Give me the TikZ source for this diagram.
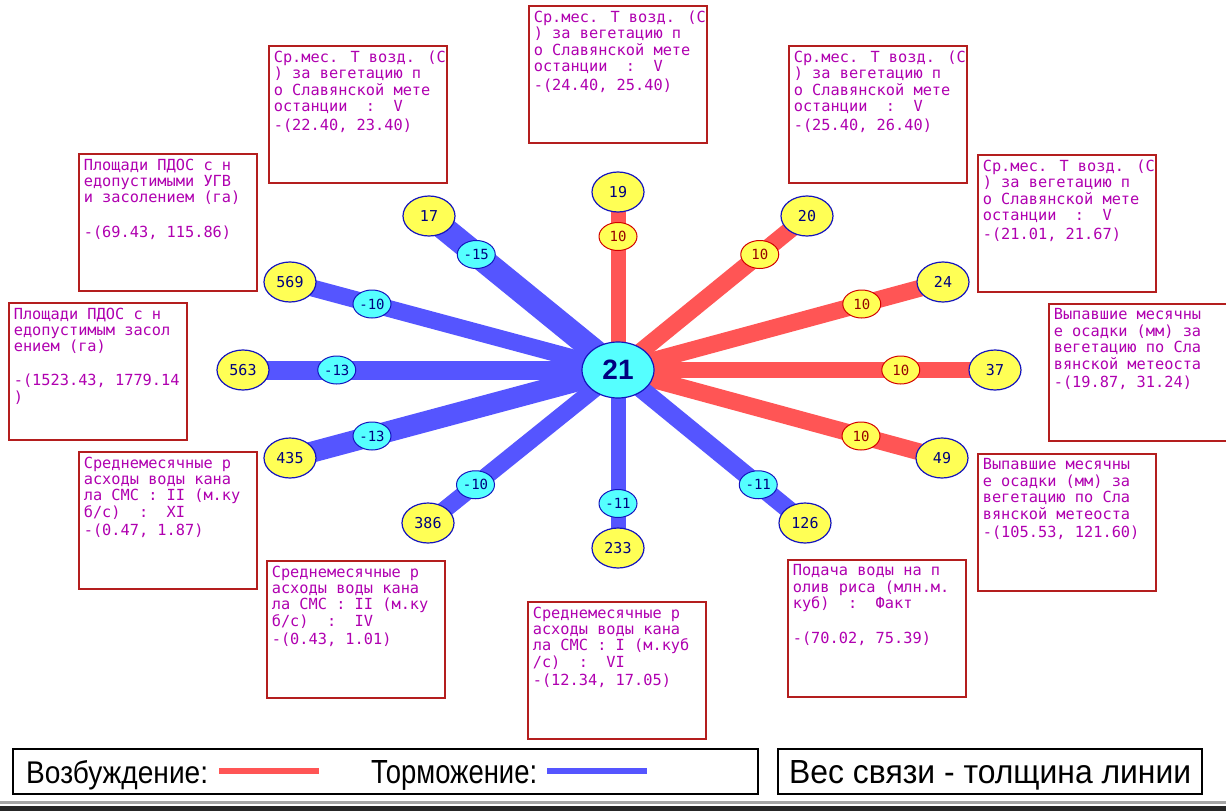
\documentclass[tikz,border=0pt]{standalone}
\usepackage{fontspec}
\setmainfont{Liberation Sans}
\newfontfamily\boxfont{DejaVu Sans Mono}
\newfontfamily\numfont{DejaVu Sans Mono}
\usetikzlibrary{shapes.geometric}
\pgfdeclarelayer{back}
\pgfdeclarelayer{bg}
\pgfsetlayers{back,bg,main}
\definecolor{linered}{RGB}{255,85,85}
\definecolor{lineblue}{RGB}{85,85,255}
\definecolor{nodeyellow}{RGB}{255,255,85}
\definecolor{nodecyan}{RGB}{85,255,255}
\definecolor{nodeborder}{RGB}{20,20,190}
\definecolor{nodetext}{RGB}{0,0,128}
\definecolor{posborder}{RGB}{210,0,0}
\definecolor{postext}{RGB}{150,0,0}
\definecolor{boxred}{RGB}{180,30,30}
\definecolor{boxmag}{RGB}{176,0,176}
\newcommand{\boxtext}[1]{\makebox[168pt][l]{\parbox[t][127pt][t]{220pt}{\raggedright #1}}}
\tikzset{
  outer/.style={ellipse, draw=nodeborder, line width=1.2pt, fill=nodeyellow,
    minimum width=52pt, minimum height=40pt, inner sep=0pt, text=nodetext,
    font=\numfont\fontsize{15}{15}\selectfont},
  hub/.style={ellipse, draw=nodeborder, line width=1.2pt, fill=nodecyan,
    minimum width=72pt, minimum height=56pt, inner sep=0pt, text=nodetext,
    font=\bfseries\fontsize{28}{28}\selectfont},
  lab/.style={ellipse, line width=1pt, minimum width=38pt, minimum height=28pt, inner sep=0pt,
    pos=0.75, font=\numfont\fontsize{14}{14}\selectfont},
  poslab/.style={lab, draw=posborder, fill=nodeyellow, text=postext},
  neglab/.style={lab, draw=nodeborder, fill=nodecyan, text=nodetext},
  exc/.style={draw=linered, line cap=butt},
  inh/.style={draw=lineblue, line cap=butt},
  tbox/.style={draw=boxred, line width=1.6pt, fill=white, text=boxmag, inner xsep=5pt,
    inner ysep=5pt, anchor=north west, font=\boxfont\fontsize{15.3}{16.4}\selectfont},
  legbox/.style={draw=black, line width=2pt, fill=white, anchor=north west, inner sep=0pt},
  legtext/.style={anchor=base west, inner sep=0pt, font=\fontsize{30}{30}\selectfont}
}
\begin{document}
\begin{tikzpicture}[x=1pt,y=-1pt]
\useasboundingbox (0,0) rectangle (1226,811);
\begin{pgfonlayer}{back}
\fill[white] (0,0) rectangle (1226,811);
\end{pgfonlayer}

% nodes
\node[hub] (c) at (618,370) {21};
\node[outer] (n19) at (618,192) {19};
\node[outer] (n20) at (807,216) {20};
\node[outer] (n24) at (943,282) {24};
\node[outer] (n37) at (995,370) {37};
\node[outer] (n49) at (942,458) {49};
\node[outer] (n126) at (805,523) {126};
\node[outer] (n233) at (618,548) {233};
\node[outer] (n386) at (428,523) {386};
\node[outer] (n435) at (290,458) {435};
\node[outer] (n563) at (243,370) {563};
\node[outer] (n569) at (290,282) {569};
\node[outer] (n17) at (429,216) {17};

% links
\begin{pgfonlayer}{bg}
\draw[exc, line width=15pt] (c.center) -- node[poslab] (l19) {10} (n19.center);
\draw[exc, line width=17pt] (c.center) -- node[poslab] (l20) {10} (n20.center);
\draw[exc, line width=17pt] (c.center) -- node[poslab] (l24) {10} (n24.center);
\draw[exc, line width=16pt] (c.center) -- node[poslab] (l37) {10} (n37.center);
\draw[exc, line width=17pt] (c.center) -- node[poslab] (l49) {10} (n49.center);
\draw[inh, line width=18pt] (c.center) -- node[neglab] (l126) {-11} (n126.center);
\draw[inh, line width=15pt] (c.center) -- node[neglab] (l233) {-11} (n233.center);
\draw[inh, line width=17pt] (c.center) -- node[neglab] (l386) {-10} (n386.center);
\draw[inh, line width=21pt] (c.center) -- node[neglab] (l435) {-13} (n435.center);
\draw[inh, line width=19pt] (c.center) -- node[neglab] (l563) {-13} (n563.center);
\draw[inh, line width=17pt] (c.center) -- node[neglab] (l569) {-10} (n569.center);
\draw[inh, line width=24pt] (c.center) -- node[neglab] (l17) {-15} (n17.center);
\end{pgfonlayer}

% text boxes
\node[tbox] (bA) at (268,45) {\boxtext{Ср.мес. T возд. (С\\) за вегетацию п\\о Славянской мете\\останции~~:~~V\\[2pt]-(22.40, 23.40)}};
\node[tbox] (bB) at (528,5) {\boxtext{Ср.мес. T возд. (С\\) за вегетацию п\\о Славянской мете\\останции~~:~~V\\[2pt]-(24.40, 25.40)}};
\node[tbox] (bC) at (788,45) {\boxtext{Ср.мес. T возд. (С\\) за вегетацию п\\о Славянской мете\\останции~~:~~V\\[2pt]-(25.40, 26.40)}};
\node[tbox] (bD) at (977,154) {\boxtext{Ср.мес. T возд. (С\\) за вегетацию п\\о Славянской мете\\останции~~:~~V\\[2pt]-(21.01, 21.67)}};
\node[tbox] (bE) at (1048,303) {\boxtext{Выпавшие месячны\\е осадки (мм) за\\вегетацию по Сла\\вянской метеоста\\[2pt]-(19.87, 31.24)}};
\node[tbox] (bF) at (977,453) {\boxtext{Выпавшие месячны\\е осадки (мм) за\\вегетацию по Сла\\вянской метеоста\\[2pt]-(105.53, 121.60)}};
\node[tbox] (bG) at (787,559) {\boxtext{Подача воды на п\\олив риса (млн.м.\\куб)~~:~~Факт\\\mbox{}\\[2pt]-(70.02, 75.39)}};
\node[tbox] (bH) at (527,601) {\boxtext{Среднемесячные р\\асходы воды кана\\ла СМС : I (м.куб\\/с)~~:~~VI\\[2pt]-(12.34, 17.05)}};
\node[tbox] (bI) at (266,560) {\boxtext{Среднемесячные р\\асходы воды кана\\ла СМС : II (м.ку\\б/с)~~:~~IV\\[2pt]-(0.43, 1.01)}};
\node[tbox] (bJ) at (78,451) {\boxtext{Среднемесячные р\\асходы воды кана\\ла СМС : II (м.ку\\б/с)~~:~~XI\\[2pt]-(0.47, 1.87)}};
\node[tbox] (bK) at (8,302) {\boxtext{Площади ПДОС с н\\едопустимым засол\\ением (га)\\\mbox{}\\[1pt]-(1523.43, 1779.14\\)}};
\node[tbox] (bL) at (78,153) {\boxtext{Площади ПДОС с н\\едопустимыми УГВ\\и засолением (га)\\\mbox{}\\[2pt]-(69.43, 115.86)}};

% legend
\node[legbox, minimum width=745pt, minimum height=45pt] (leg1) at (12,748) {};
\node[legbox, minimum width=424pt, minimum height=45pt] (leg2) at (777,748) {};
\node[legtext] (tExc) at (26,783) {\resizebox{182pt}{23pt}{Возбуждение:}};
\node[legtext] (tInh) at (371,783) {\resizebox{166pt}{23pt}{Торможение:}};
\node[legtext] (tW) at (789,783) {\resizebox{402pt}{23pt}{Вес связи - толщина линии}};
\coordinate (r1) at (219,771);
\coordinate (r2) at (319,771);
\coordinate (b1) at (547,771);
\coordinate (b2) at (647,771);
\draw[exc, line width=6pt] (r1) -- (r2);
\draw[inh, line width=6pt] (b1) -- (b2);

% bottom frame
\fill[gray!70] (0,801) rectangle (1226,804);
\fill[black!85] (0,806) rectangle (1226,811);
\end{tikzpicture}
\end{document}
